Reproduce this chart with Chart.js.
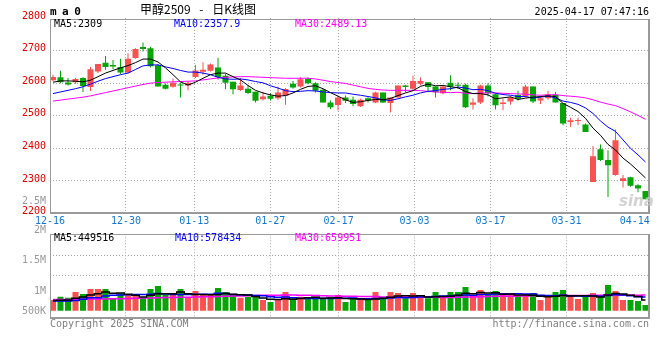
<!DOCTYPE html>
<html>
<head>
<meta charset="utf-8">
<script src="https://cdn.jsdelivr.net/npm/chart.js@4.4.1/dist/chart.umd.min.js"></script>
<style>
html,body{margin:0;padding:0;background:#ffffff;}
#wrap{position:relative;width:660px;height:360px;overflow:hidden;background:#ffffff;}
#wrap canvas{position:absolute;left:0;}
.t{position:absolute;white-space:pre;font-family:"DejaVu Sans Mono",monospace;font-size:10px;line-height:12px;z-index:5;color:#000;}
</style>
</head>
<body>
<div id="wrap">
  <canvas id="priceChart" width="660" height="230" style="top:0px;width:660px;height:230px"></canvas>
  <canvas id="volChart" width="660" height="100" style="top:230px;width:660px;height:100px"></canvas>
  <div class="t" style="left:50px;top:5px;font-weight:bold;font-size:11px;line-height:13px;letter-spacing:5.5px;">ma0</div>
  <div class="t" style="left:140px;top:2px;font-family:'Noto Sans CJK SC';font-size:12px;line-height:14px;word-spacing:6px;">甲醇2509 - 日K线图</div>
  <div class="t" style="right:11px;top:6px;">2025-04-17 07:47:16</div>
  <div class="t" style="left:54px;top:18px;color:#000000;">MA5:2309</div>
  <div class="t" style="left:174px;top:18px;color:#0000ff;">MA10:2357.9</div>
  <div class="t" style="left:295px;top:18px;color:#ff00ff;">MA30:2489.13</div>
  <div class="t" style="left:54px;top:232px;color:#000000;">MA5:449516</div>
  <div class="t" style="left:175px;top:232px;color:#0000ff;">MA10:578434</div>
  <div class="t" style="left:295px;top:232px;color:#ff00ff;">MA30:659951</div>
  <div class="t" style="left:50px;top:318px;color:#808080;">Copyright 2025 SINA.COM</div>
  <div class="t" style="right:11px;top:318px;color:#808080;">http://finance.sina.com.cn</div>
  <div class="t" style="left:619px;top:193px;font-family:'DejaVu Sans';font-style:italic;font-weight:bold;font-size:15px;line-height:16px;color:rgba(200,200,200,0.8);z-index:1;">sina</div>
</div>
<script>
// ---------------- data ----------------
const dates = ['12-16','12-17','12-18','12-19','12-20','12-23','12-24','12-25','12-26','12-27','12-30','12-31',
 '01-02','01-03','01-06','01-07','01-08','01-09','01-10','01-13','01-14','01-15','01-16','01-17','01-20','01-21','01-22','01-23','01-24','01-27',
 '02-05','02-06','02-07','02-10','02-11','02-12','02-13','02-14','02-17','02-18','02-19','02-20','02-21','02-24','02-25','02-26','02-27','02-28',
 '03-03','03-04','03-05','03-06','03-07','03-10','03-11','03-12','03-13','03-14','03-17','03-18','03-19','03-20','03-21','03-24','03-25','03-26','03-27','03-28','03-31',
 '04-01','04-02','04-03','04-07','04-08','04-09','04-10','04-11','04-14','04-15','04-16'];

const opens = [2609,2618,2602,2603,2616,2588,2636,2663,2656,2650, 2633,2677,2711,2707,2655,2595,2589,2595,2593,2619,
 2635,2638,2648,2623,2604,2579,2583,2574,2551,2561, 2554,2561,2598,2590,2613,2600,2580,2541,2533,2556,
 2549,2529,2554,2541,2571,2539,2556,2593,2583,2598, 2603,2590,2569,2601,2594,2595,2534,2541,2593,2566,
 2536,2544,2564,2559,2590,2547,2554,2564,2539,2481, 2484,2473,2297,2397,2364,2318,2300,2311,2287,2269];
const highs = [2626,2638,2616,2616,2618,2650,2659,2683,2671,2675, 2692,2707,2725,2712,2659,2599,2614,2601,2606,2656,
 2664,2660,2678,2629,2604,2616,2593,2574,2574,2569, 2590,2585,2607,2618,2618,2603,2582,2547,2562,2562,
 2559,2552,2557,2574,2571,2556,2593,2595,2623,2618, 2603,2590,2593,2624,2603,2598,2554,2595,2600,2569,
 2552,2559,2577,2595,2590,2562,2577,2573,2539,2494, 2494,2476,2407,2412,2394,2458,2318,2313,2290,2269];
const lows = [2606,2600,2593,2598,2573,2576,2631,2641,2643,2628, 2629,2675,2697,2648,2590,2581,2586,2556,2578,2616,
 2626,2636,2611,2581,2566,2576,2567,2541,2547,2547, 2549,2534,2583,2587,2597,2571,2541,2521,2516,2539,
 2529,2527,2541,2539,2539,2510,2556,2572,2580,2593, 2572,2556,2566,2578,2582,2524,2519,2536,2559,2519,
 2517,2534,2547,2556,2539,2536,2549,2541,2471,2466, 2471,2450,2297,2361,2251,2316,2280,2282,2265,2244];
const closes = [2619,2603,2596,2613,2591,2643,2659,2650,2651,2633, 2675,2705,2705,2652,2590,2583,2601,2593,2601,2639,
 2641,2657,2619,2601,2581,2593,2570,2546,2559,2552, 2571,2582,2587,2612,2600,2577,2541,2526,2556,2546,
 2536,2549,2547,2571,2541,2556,2593,2588,2607,2607, 2588,2572,2590,2590,2592,2526,2541,2593,2569,2532,
 2541,2556,2552,2590,2544,2554,2566,2541,2476,2486, 2485,2450,2376,2364,2348,2425,2308,2285,2277,2244];

const ma5 = [2603,2607,2607,2606,2604, 2609,2620,2631,2639,2647, 2654,2663,2674,2674,2665, 2647,2626,2604,2594,2603,
 2615,2626,2631,2631,2620, 2610,2593,2578,2570,2564, 2560,2562,2570,2581,2590, 2592,2583,2571,2560,2549,
 2541,2543,2547,2550,2549, 2553,2562,2570,2577,2590, 2597,2592,2593,2589,2586, 2574,2568,2568,2564,2552,
 2555,2558,2550,2554,2557, 2559,2561,2559,2538,2526, 2513,2492,2462,2440,2412, 2395,2370,2352,2331,2309];
const ma10 = [2568,2573,2578,2583,2589, 2597,2606,2614,2620,2626, 2631,2642,2653,2656,2656, 2650,2645,2639,2634,2634,
 2631,2626,2618,2613,2612, 2613,2610,2605,2601,2592, 2585,2577,2574,2575,2577, 2576,2573,2571,2570,2570,
 2566,2563,2559,2555,2549, 2547,2552,2558,2563,2570, 2575,2577,2581,2583,2588, 2585,2580,2581,2577,2569,
 2565,2563,2559,2559,2554, 2557,2560,2555,2545,2541, 2535,2524,2507,2484,2465, 2452,2426,2400,2380,2358];
const ma30 = [2545,2548,2551,2554,2557, 2561,2566,2571,2576,2581, 2586,2591,2596,2600,2602, 2603,2604,2605,2606,2607,
 2610,2613,2616,2618,2619, 2620,2620,2619,2618,2617, 2616,2615,2615,2615,2615, 2613,2609,2605,2602,2599,
 2594,2589,2584,2581,2579, 2578,2578,2578,2578,2577, 2575,2573,2572,2571,2572, 2569,2568,2570,2570,2570,
 2569,2568,2567,2566,2564, 2563,2564,2565,2562,2560, 2558,2555,2549,2542,2536, 2531,2522,2512,2501,2489];

// volume in thousands of lots
const volumes = [448,588,546,784,700,910,910,910,518,728, 658,658,546,910,1036,658,686,910,560,826,
 658,658,952,784,658,546,588,630,448,364, 476,784,518,588,546,588,546,588,658,364,
 546,490,448,784,546,784,742,518,742,588, 518,784,588,784,784,994,658,868,700,826,
 658,700,658,700,742,448,588,784,868,630, 490,588,742,658,1078,826,448,448,406,238];
const volMa5 = [430,440,450,520,570, 657,716,784,735,739, 693,645,578,651,709, 709,713,781,716,677,
 677,671,680,722,690, 670,657,596,534,479, 466,502,482,508,541, 563,518,531,544,511,
 502,492,466,489,524, 567,615,628,619,628, 578,586,599,606,644, 732,709,761,745,752,
 690,698,658,658,644, 605,583,606,638,618, 625,625,618,578,661, 724,698,644,596,450];
const volMa10 = [406,406,406,430,476, 546,546,616,650,655, 674,681,681,693,724, 700,680,680,684,693,
 693,693,730,719,684, 673,664,638,628,585, 567,579,539,521,511, 514,511,507,526,526,
 533,505,498,517,517, 535,553,547,554,576, 573,600,613,613,635, 655,647,680,676,698,
 711,703,710,702,698, 647,641,632,648,631, 615,605,612,608,639, 674,661,631,587,578];
const volMa30 = [470,472,475,478,482, 486,490,495,500,505, 512,520,528,535,542, 550,556,562,568,575,
 582,590,598,606,614, 622,630,638,645,650, 651,658,657,651,646, 636,625,615,618,607,
 604,599,596,592,576, 580,582,570,575,568, 564,568,556,556,560, 574,576,584,592,606,
 612,609,614,618,623, 618,620,626,633,641, 639,643,651,648,665, 666,657,654,650,660];

const priceTicks = [2200,2300,2400,2500,2600,2700,2800];
const xTickLabels = ['12-16','12-30','01-13','01-27','02-17','03-03','03-17','03-31','04-14'];
const volTickLabels = ['2.5M','2M','1.5M','1M','500K'];

// ---------------- layout / style ----------------
const UP = '#f85252', DOWN = '#06a406', GRID = '#a8a8a8', FRAME = '#9a9a9a';
const MONO = 'DejaVu Sans Mono';
const n = dates.length;
const xAt = i => i + 0.4;
const pts = arr => arr.map((v, i) => ({x: xAt(i), y: v}));
const candleColor = closes.map((c, i) => c >= opens[i] ? UP : DOWN);
// Sina spaces its date grid over n-1 intervals
const tickVal = xTickLabels.map(l => dates.indexOf(l) * n / (n - 1));
const lastTick = xTickLabels.length - 1;

const wrap = document.getElementById('wrap');
const volLabelCenters = [200.7, 230.3, 260.3, 290.8, 310.7];
volTickLabels.forEach((t, i) => {
  const d = document.createElement('div');
  d.className = 't';
  d.style.right = '614px';
  d.style.top = (volLabelCenters[i] - 6) + 'px';
  d.style.color = '#9a9a9a';
  d.textContent = t;
  wrap.appendChild(d);
});

const frame = {
  id: 'frame',
  afterDraw(chart, args, o) {
    const c = chart.ctx;
    c.save();
    c.fillStyle = o.color;
    c.fillRect(o.left, o.top, o.right - o.left, 1);
    c.fillRect(o.left, o.top, 1, o.bottom - o.top);
    c.fillRect(o.right - o.rw, o.top, o.rw, o.bottom - o.top);
    c.fillRect(o.left, o.bottom - o.bw, o.right - o.left, o.bw);
    c.restore();
  }
};

const noGridEnds = c => (c.index === 0 || c.index === lastTick) ? 'rgba(0,0,0,0)' : GRID;

const lineDs = (label, data, color, extra) => Object.assign({
  type: 'line', label, data: pts(data), borderColor: color, backgroundColor: color,
  borderWidth: 1, pointRadius: 0, tension: 0, fill: false, order: 0
}, extra || {});

// ---------------- price chart ----------------
new Chart(document.getElementById('priceChart'), {
  type: 'bar',
  data: {
    datasets: [
      lineDs('MA5', ma5, '#000000'),
      lineDs('MA10', ma10, '#0000ff'),
      lineDs('MA30', ma30, '#ff00ff'),
      { type: 'bar', label: 'body', data: opens.map((o, i) => ({x: xAt(i), y: [o, closes[i]]})),
        backgroundColor: candleColor, barThickness: 6, grouped: false, minBarLength: 1,
        inflateAmount: 0, borderWidth: 0, order: 1 },
      { type: 'bar', label: 'wick', data: lows.map((l, i) => ({x: xAt(i), y: [l, highs[i]]})),
        backgroundColor: candleColor, barThickness: 1, grouped: false, inflateAmount: 0,
        borderWidth: 0, order: 2 }
    ]
  },
  options: {
    responsive: false, animation: false, devicePixelRatio: 1, events: [],
    layout: { padding: { left: 0, right: 10, top: 18, bottom: 0 } },
    plugins: {
      legend: { display: false }, tooltip: { enabled: false },
      frame: { color: FRAME, left: 50, top: 19, right: 650, bottom: 214, rw: 2, bw: 2 }
    },
    scales: {
      x: {
        type: 'linear', min: 0, max: n, offset: false,
        afterBuildTicks: s => { s.ticks = tickVal.map(v => ({value: v})); },
        afterFit: s => { s.height = 16.5; },
        ticks: { autoSkip: false, maxRotation: 0, minRotation: 0, padding: 2, color: '#1577cf',
                 font: { family: MONO, size: 10 }, callback: (v, i) => xTickLabels[i] },
        grid: { color: noGridEnds, drawTicks: false, lineWidth: 1, offset: false },
        border: { display: false, dash: [1, 2] }
      },
      y: {
        type: 'linear', min: 2200, max: 2800,
        afterBuildTicks: s => { s.ticks = priceTicks.map(v => ({value: v})); },
        afterFit: s => { s.width = 50; },
        ticks: { padding: 4, color: '#e00000', labelOffset: -2, font: { family: MONO, size: 10 },
                 callback: v => String(v) },
        grid: { color: c => (c.tick && c.tick.value === 2800) ? 'rgba(0,0,0,0)' : GRID, drawTicks: false },
        border: { display: false, dash: [1, 2] }
      }
    }
  },
  plugins: [frame]
});

// ---------------- volume chart ----------------
new Chart(document.getElementById('volChart'), {
  type: 'bar',
  data: {
    datasets: [
      lineDs('MA5', volMa5, '#000000', { stepped: 'middle', borderWidth: 1.5 }),
      lineDs('MA10', volMa10, '#0000ff', { stepped: 'middle', borderWidth: 1.5 }),
      lineDs('MA30', volMa30, '#ff00ff', { stepped: 'middle', borderWidth: 1.5 }),
      { type: 'bar', label: 'vol', data: pts(volumes), backgroundColor: candleColor,
        barThickness: 6, grouped: false, inflateAmount: 0, borderWidth: 0, order: 3 }
    ]
  },
  options: {
    responsive: false, animation: false, devicePixelRatio: 1, events: [],
    layout: { padding: { left: 0, right: 10, top: 4.3, bottom: 12 } },
    plugins: {
      legend: { display: false }, tooltip: { enabled: false },
      frame: { color: FRAME, left: 50, top: 4, right: 650, bottom: 89, rw: 2, bw: 2 }
    },
    scales: {
      x: {
        type: 'linear', min: 0, max: n, offset: false,
        afterBuildTicks: s => { s.ticks = tickVal.map(v => ({value: v})); },
        afterFit: s => { s.height = 0; },
        ticks: { display: false },
        grid: { color: noGridEnds, drawTicks: false, lineWidth: 1, offset: false },
        border: { display: false, dash: [1, 2] }
      },
      y: {
        type: 'linear', min: -307, max: 3209,
        afterBuildTicks: s => { s.ticks = [1470, 2310].map(v => ({value: v})); },
        afterFit: s => { s.width = 50; },
        ticks: { display: false },
        grid: { color: GRID, drawTicks: false },
        border: { display: false, dash: [1, 2] }
      }
    }
  },
  plugins: [frame]
});
</script>
</body>
</html>
